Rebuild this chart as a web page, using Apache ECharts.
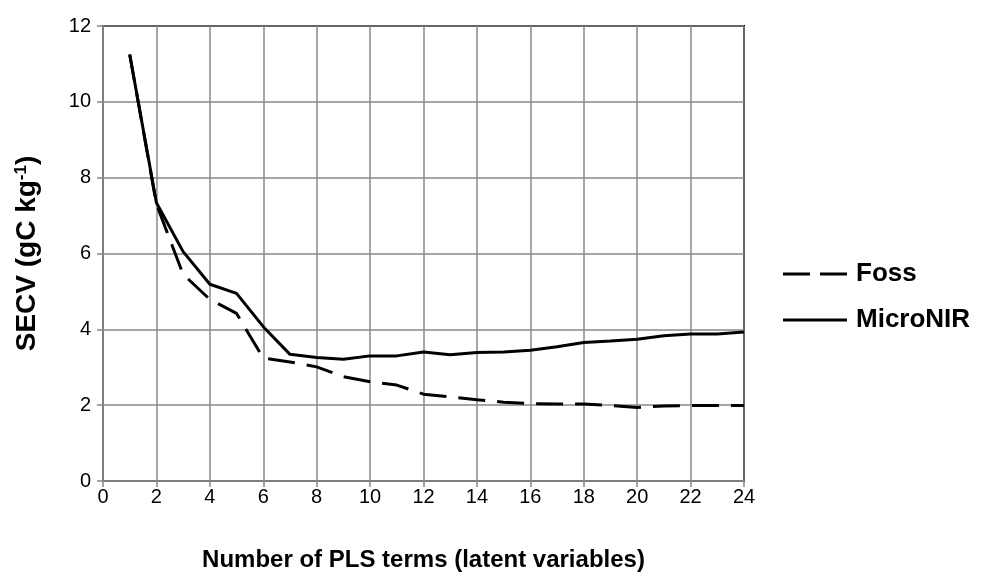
<!DOCTYPE html>
<html><head><meta charset="utf-8">
<script src="https://cdn.jsdelivr.net/npm/echarts@6/dist/echarts.min.js"></script>
<style>html,body{margin:0;padding:0;background:#fff}#c{width:983px;height:579px}</style>
</head><body><div id="c"></div>
<script>
const terms = [1,2,3,4,5,6,7,8,9,10,11,12,13,14,15,16,17,18,19,20,21,22,23,24];
const foss = [11.25,7.3,5.45,4.79,4.42,3.24,3.14,3.01,2.75,2.62,2.53,2.29,2.22,2.14,2.08,2.04,2.03,2.03,1.99,1.94,1.98,1.99,1.99,1.99];
const microNIR = [11.25,7.34,6.05,5.19,4.95,4.07,3.34,3.26,3.21,3.30,3.30,3.40,3.33,3.39,3.40,3.45,3.54,3.65,3.69,3.74,3.83,3.88,3.88,3.93];
const seriesNames = ['Foss','MicroNIR'];
const xTitle = 'Number of PLS terms (latent variables)';

const chart = echarts.init(document.getElementById('c'), null, {renderer:'canvas'});
const font = 'Liberation Sans, Arial, sans-serif';
chart.setOption({
  animation:false,
  backgroundColor:'#fff',
  textStyle:{fontFamily:font},
  grid:{left:103,right:239,top:26,bottom:98,show:true,borderColor:'#000',borderWidth:2,backgroundColor:'transparent'},
  legend:{
    orient:'vertical', left:778, top:256, itemGap:20,
    itemWidth:64, itemHeight:3,
    textStyle:{fontSize:26,fontWeight:'bold',color:'#000',fontFamily:font,padding:[0,0,0,4]},
    data:[
      {name:seriesNames[0], icon:'path://M0,0H27V3H0ZM37,0H64V3H37Z'},
      {name:seriesNames[1], icon:'path://M0,0H64V3H0Z'}
    ]
  },
  xAxis:{
    type:'value', min:0, max:24, interval:2,
    name:xTitle, nameLocation:'middle', nameGap:67,
    nameTextStyle:{fontSize:24,fontWeight:'bold',color:'#000',fontFamily:font},
    axisLine:{show:true,onZero:false,lineStyle:{color:'#888',width:1.5}},
    axisTick:{show:true,inside:false,length:6,lineStyle:{color:'#888',width:1.5}},
    axisLabel:{fontSize:20,color:'#000',margin:6,fontFamily:font},
    splitLine:{show:true,lineStyle:{color:'#888',width:1.5}}
  },
  yAxis:{
    type:'value', min:0, max:12, interval:2,
    name:'{b|SECV (gC kg}{s|-1}{b|)}', nameLocation:'middle', nameGap:62, nameRotate:90,
    nameTextStyle:{fontSize:28,fontWeight:'bold',color:'#000',fontFamily:font,
      rich:{b:{fontSize:28,fontWeight:'bold',color:'#000',fontFamily:font,verticalAlign:'bottom'},
            s:{fontSize:17,fontWeight:'bold',color:'#000',fontFamily:font,verticalAlign:'top'}}},
    axisLine:{show:true,lineStyle:{color:'#888',width:1.5}},
    axisTick:{show:true,length:6,lineStyle:{color:'#888',width:1.5}},
    axisLabel:{fontSize:20,color:'#000',margin:12,fontFamily:font},
    splitLine:{show:true,lineStyle:{color:'#888',width:1.5}}
  },
  series:[
    {name:seriesNames[0], type:'line', data:terms.map((t,i)=>[t,foss[i]]), symbol:'none',
     lineStyle:{color:'#000',width:3,type:[27,12]}, itemStyle:{color:'#000'}, z:3},
    {name:seriesNames[1], type:'line', data:terms.map((t,i)=>[t,microNIR[i]]), symbol:'none',
     lineStyle:{color:'#000',width:3,type:'solid'}, itemStyle:{color:'#000'}, z:4}
  ]
});
</script></body></html>
